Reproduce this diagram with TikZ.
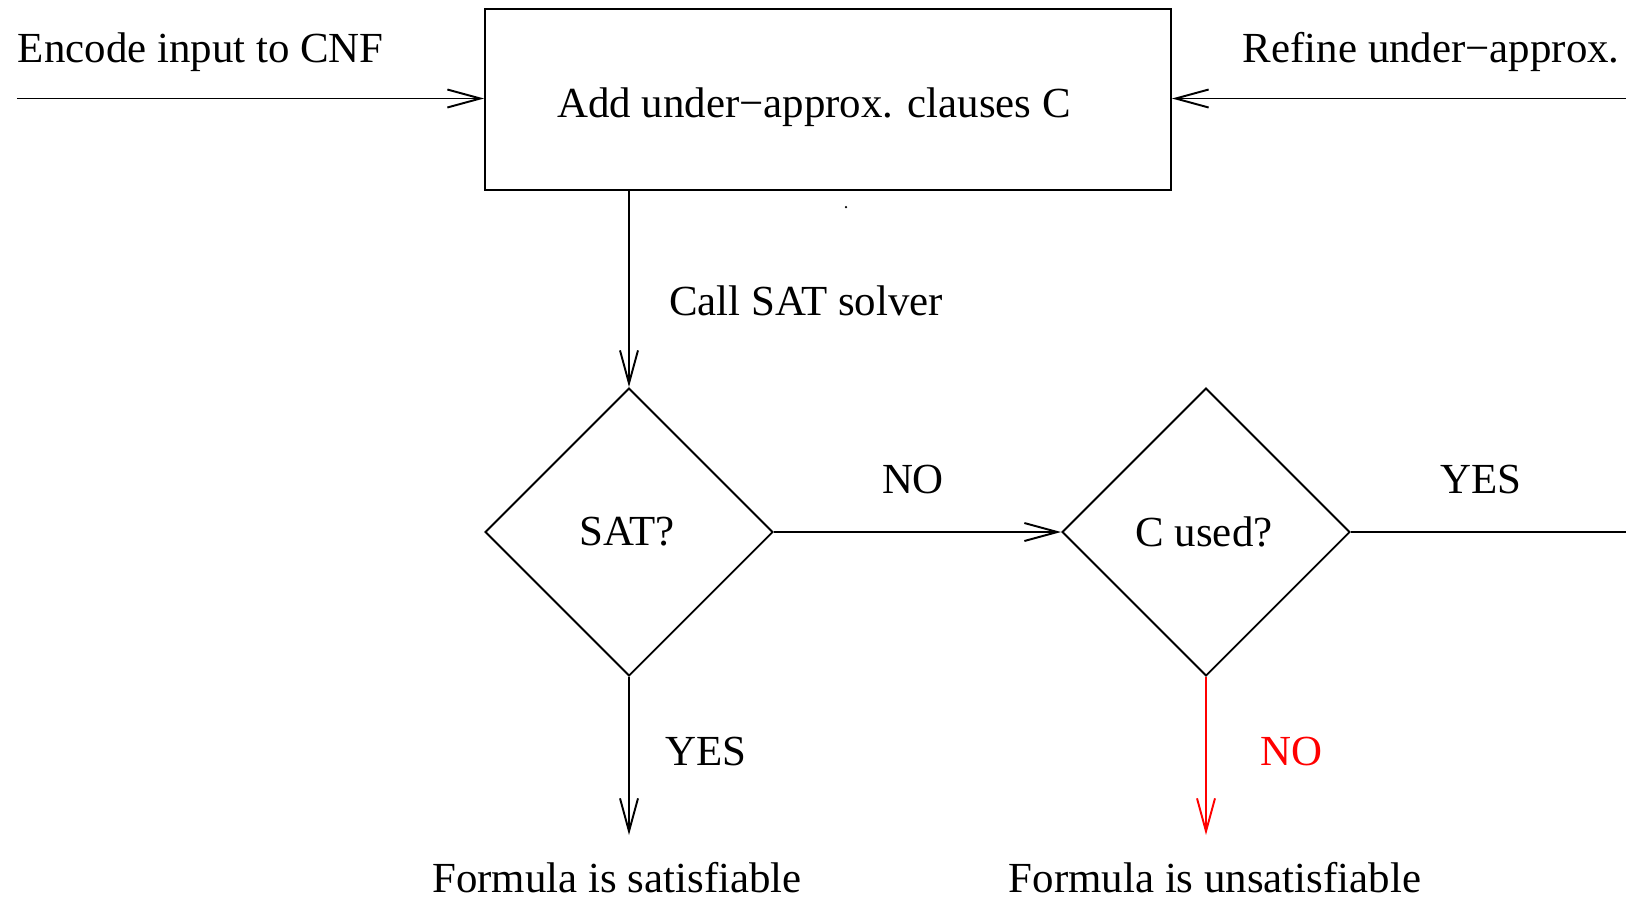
\documentclass[tikz,border=0pt]{standalone}
\usepackage{fontspec}
\setmainfont{Liberation Serif}
\usetikzlibrary{arrows.meta,positioning,shapes.geometric}

\begin{document}
\begin{tikzpicture}[line width=1.1pt,
  font=\fontsize{24.4}{28}\selectfont,
  >={Straight Barb[length=0.66cm,width=0.36cm]},
  stepbox/.style={draw,minimum width=13.72cm,minimum height=3.62cm},
  decision/.style={draw,diamond,aspect=1,inner sep=0pt,minimum size=5.76cm},
  lbl/.style={inner sep=0pt}]
  \useasboundingbox (0,0) rectangle (32.52,-17.94);
  \node[stepbox] (add) at (16.56,-1.99) {\raisebox{-0.35cm}[0pt][0pt]{Add under−approx. clauses C}\hspace*{0.56cm}};
  \node[decision] (sat) at (12.58,-10.64) {\hspace*{-0.08cm}SAT?};
  \node[decision] (used) at (24.12,-10.64) {\hspace*{-0.08cm}C used?};
  \coordinate (in) at (0.34,-1.97);
  \coordinate (back) at (32.52,-1.97);
  \coordinate (yes) at (32.52,-10.64);
  \coordinate (satisf) at (12.58,-16.70);
  \coordinate (unsat) at (24.12,-16.70);
  % connectors
  \draw[->] (in) -- (in -| add.west);
  \draw[->] (back) -- (back -| add.east);
  \draw[->] (add.south -| sat.north) -- (sat.north);
  \draw[->] (sat.east) -- (used.west);
  \draw (used.east) -- (yes);
  \draw[->] (sat.south) -- (satisf);
  \draw[->,red] (used.south) -- (unsat);
  % labels
  \node[lbl,anchor=base west] (encode) at (0.34,-1.24) {Encode input to CNF};
  \node[lbl,anchor=base west] (refine) at (24.84,-1.24) {Refine under−approx.};
  \node[lbl] (call) at (16.12,-6.02) {Call SAT solver};
  \node[lbl] (no) at (18.26,-9.60) {NO};
  \node[lbl] (yesr) at (29.62,-9.60) {YES};
  \node[lbl] (yesd) at (14.12,-15.02) {YES};
  \node[lbl,red] (nod) at (25.82,-15.02) {NO};
  \node[lbl,anchor=base] (sattext) at (12.34,-17.84) {Formula is satisfiable};
  \node[lbl,anchor=base] (unsattext) at (24.30,-17.84) {Formula is unsatisfiable};
  \fill (16.92,-4.14) circle (0.025);
\end{tikzpicture}
\end{document}
